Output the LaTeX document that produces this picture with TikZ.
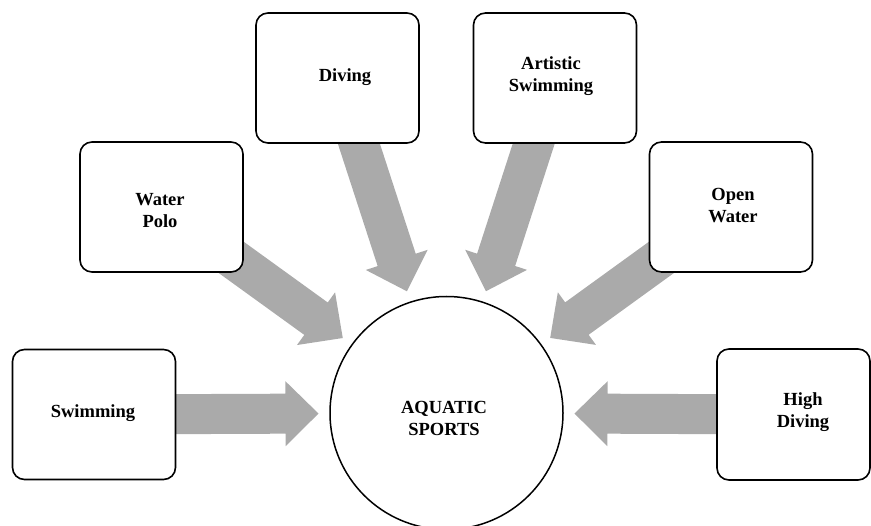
\documentclass[tikz,border=0pt]{standalone}
\usepackage{fontspec}
\setmainfont{Liberation Serif}
\usetikzlibrary{calc,backgrounds}
\definecolor{arrowgray}{HTML}{AAAAAA}
\tikzset{
  sbox/.style={draw=black, line width=1.6pt, rounded corners=12pt, fill=white,
    inner sep=0pt, minimum width=163pt, minimum height=130pt},
  lbl/.style={font=\bfseries\fontsize{18.5}{22}\selectfont, align=center, inner sep=0pt},
  hub/.style={circle, draw=black, line width=1.5pt, fill=white, minimum size=233pt, inner sep=0pt},
  arrowbody/.style={fill=arrowgray, draw=none},
}
% #1 name prefix, #2 source box node
\newcommand\blockarrow[2]{%
  \coordinate (#1-tip) at ($(hub.center)!128pt!(#2.center)$);
  \coordinate (#1-neck) at ($(#1-tip)!33pt!(#2.center)$);
  \fill[arrowbody]
    ($(#2.center)!20pt!90:(#1-tip)$) --
    ($(#1-neck)!20pt!90:(#1-tip)$) --
    ($(#1-neck)!32.5pt!90:(#1-tip)$) --
    (#1-tip) --
    ($(#1-neck)!32.5pt!-90:(#1-tip)$) --
    ($(#1-neck)!20pt!-90:(#1-tip)$) --
    ($(#2.center)!20pt!-90:(#1-tip)$) -- cycle;
}
\begin{document}
\begin{tikzpicture}[x=1pt,y=-1pt]
\useasboundingbox (0,0) rectangle (871,526);

\node[hub] (hub) at (446.5,413) {};

\node[sbox] (swim) at (94,414.5) {};
\node[sbox] (wpolo) at (161.5,207) {};
\node[sbox] (div) at (337.5,78) {};
\node[sbox] (art) at (555,78) {};
\node[sbox] (open) at (731,207) {};
\node[sbox, minimum width=153pt, minimum height=131pt] (high) at (793.5,414.5) {};

\begin{pgfonlayer}{background}
  \blockarrow{a1}{swim}
  \blockarrow{a2}{wpolo}
  \blockarrow{a3}{div}
  \blockarrow{a4}{art}
  \blockarrow{a5}{open}
  \blockarrow{a6}{high}
\end{pgfonlayer}

\node[lbl] (t-swim) at (93,413) {Swimming};
\node[lbl] (t-wpolo) at (160,211) {Water\\Polo};
\node[lbl] (t-div) at (345,77) {Diving};
\node[lbl] (t-art) at (551,76.5) {Artistic\\Swimming};
\node[lbl] (t-open) at (733,206) {Open\\Water};
\node[lbl] (t-high) at (803,412.5) {High\\Diving};
\node[lbl] (t-hub) at (444,418.5) {AQUATIC\\SPORTS};
\end{tikzpicture}
\end{document}
